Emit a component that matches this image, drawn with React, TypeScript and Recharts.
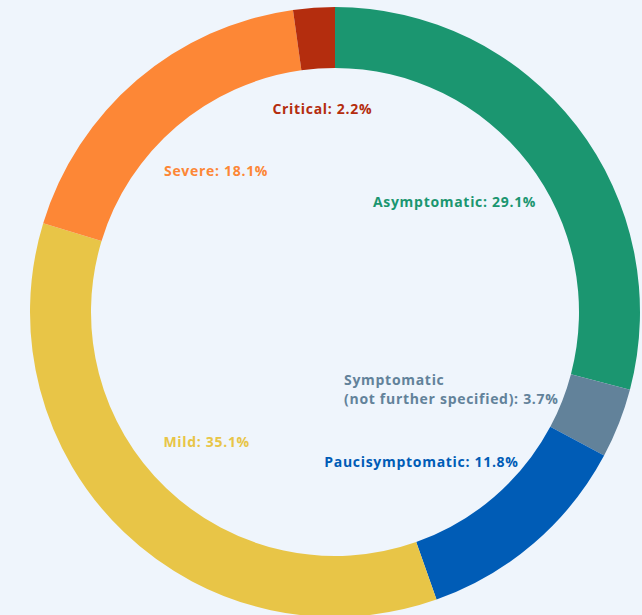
import { PieChart, Pie, Cell } from "recharts";

const CATEGORIES = [
  "Asymptomatic",
  "Symptomatic (not further specified)",
  "Paucisymptomatic",
  "Mild",
  "Severe",
  "Critical",
];
const SHARES = [29.1, 3.7, 11.8, 35.1, 18.1, 2.2];
const COLORS = ["#1b9670", "#62829a", "#005cb6", "#e8c547", "#fd8736", "#b42d0e"];

// label placement: radius from centre, clockwise shift from mid angle (deg)
const LABEL_POS = [
  { r: 163, shift: -5.2, anchor: "middle" },
  { r: 67.6, shift: 60.9, anchor: "start" },
  { r: 173, shift: 10.7, anchor: "middle" },
  { r: 182, shift: 1.1, anchor: "middle" },
  { r: 185, shift: 0.5, anchor: "middle" },
  { r: 204, shift: 0.4, anchor: "middle" },
];

const W = 642;
const H = 615;
const RAD = Math.PI / 180;

const data = CATEGORIES.map((name, i) => ({ name, value: SHARES[i] }));

function renderLabel(props: any) {
  const { cx, cy, midAngle, index } = props;
  const pos = LABEL_POS[index];
  const a = midAngle - pos.shift;
  const x = cx + pos.r * Math.cos(-a * RAD);
  const y = cy + pos.r * Math.sin(-a * RAD);
  const pct = `${SHARES[index].toFixed(1)}%`;
  const common = {
    fill: COLORS[index],
    fontFamily: "'Open Sans', sans-serif",
    fontWeight: 700,
    fontSize: 14,
    letterSpacing: 0.7,
    textAnchor: pos.anchor as any,
  };
  if (index === 1) {
    return (
      <text key={index} x={x} y={y} {...common} dominantBaseline="central">
        <tspan x={x}>Symptomatic</tspan>
        <tspan x={x} dy={19}>
          (not further specified): {pct}
        </tspan>
      </text>
    );
  }
  return (
    <text key={index} x={x} y={y} {...common} dominantBaseline="central">
      {`${CATEGORIES[index]}: ${pct}`}
    </text>
  );
}

export default function App() {
  return (
    <div
      style={{
        position: "fixed",
        left: 0,
        top: 0,
        width: W,
        height: H,
        background: "#eff5fc",
        overflow: "hidden",
      }}
    >
      <PieChart width={W} height={H} margin={{ top: 0, right: 0, bottom: 0, left: 0 }}>
        <Pie
          data={data}
          dataKey="value"
          nameKey="name"
          cx={335}
          cy={312}
          innerRadius={244}
          outerRadius={305}
          startAngle={90}
          endAngle={-270}
          stroke="none"
          label={renderLabel}
          labelLine={false}
          isAnimationActive={false}
        >
          {data.map((d, i) => (
            <Cell key={d.name} fill={COLORS[i]} />
          ))}
        </Pie>
      </PieChart>
    </div>
  );
}
